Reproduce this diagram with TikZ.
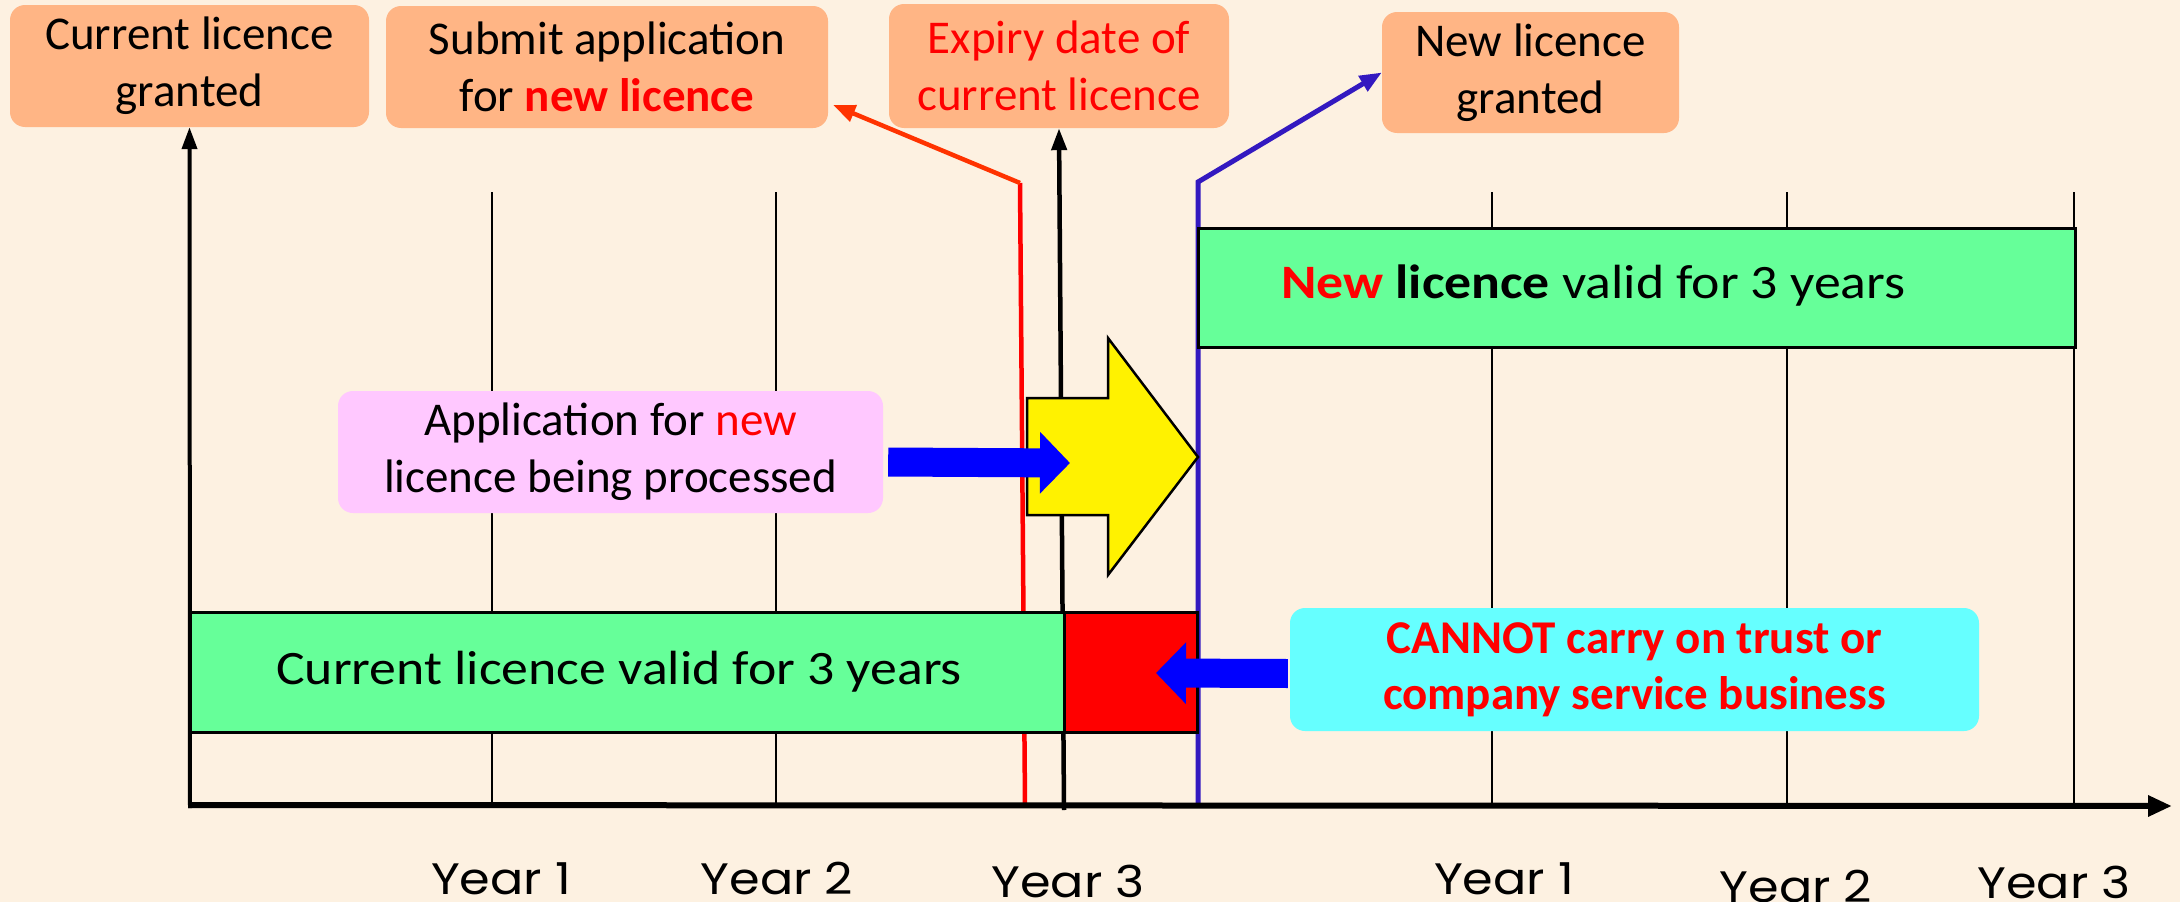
\documentclass[tikz,border=0pt]{standalone}
\usepackage{fontspec}
\setmainfont{Carlito}
\newfontfamily\yearfont[FakeStretch=1.12]{Poppins}
\newfontfamily\widefont[FakeStretch=1.12]{Carlito}
\usetikzlibrary{arrows.meta}
\definecolor{bgc}{RGB}{253,241,225}
\definecolor{peach}{RGB}{255,181,133}
\definecolor{lgreen}{RGB}{102,255,153}
\definecolor{lpink}{RGB}{255,200,255}
\definecolor{lcyan}{RGB}{102,255,255}
\definecolor{oranred}{RGB}{255,51,0}
\definecolor{vblue}{RGB}{51,25,192}
\begin{document}
\begin{tikzpicture}[x=1pt,y=-1pt,
  lbl/.style={fill=peach, rounded corners=15pt, inner sep=0pt, align=center,
    font=\fontsize{47}{57}\selectfont},
  rbox/.style={draw=black, line width=3pt, inner sep=0pt},
  txt/.style={font=\widefont\fontsize{48}{56}\selectfont, inner sep=0pt},
  yr/.style={font=\yearfont\fontsize{44}{50}\selectfont, inner sep=0pt, anchor=base},
  tick/.style={line width=1.2pt, black},
  blk/.style={line width=4.5pt, -{Triangle[length=22pt,width=15pt]}},
  blockarrow/.style={line width=29pt, blue, -{Triangle[length=30pt,width=60pt]}}]
\useasboundingbox (0,0) rectangle (2180,902);
\fill[bgc] (0,0) rectangle (2180,902);

% coordinates
\coordinate (o) at (190,808);
\coordinate (xend) at (2172,806);
\coordinate (redbot) at (1025,805);
\coordinate (redtop) at (1020,183);
\coordinate (y3bot) at (1064,810);
\coordinate (bluebot) at (1198,805);
\coordinate (bluetop) at (1198,182);
\coordinate (t1) at (1070,463);
\coordinate (t2) at (1156,673);

% thin year ticks
\foreach \x in {492,776,1492,1787,2074}
  \draw[tick] (\x,192) -- (\x,805);

% top label boxes
\node[lbl, minimum width=359pt, minimum height=122pt] (b1) at (189.5,66) {Current licence\\granted};
\node[lbl, minimum width=442pt, minimum height=122pt] (b2) at (607,67) {Submit application\\for \textbf{\color{red}new licence}};
\node[lbl, minimum width=340pt, minimum height=124pt, text=red] (b3) at (1059,66) {Expiry date of\\current licence};
\node[lbl, minimum width=297pt, minimum height=121pt] (b4) at (1530.5,72.5) {New licence\\granted};

% vertical markers
\draw[line width=4.5pt, red] (redbot) -- (redtop);
\draw[line width=4.5pt, oranred, line join=miter, -{Triangle[length=22pt,width=17pt]}] (redtop) -- ([shift={(5,38)}]b2.east);
\draw[blk] (y3bot) -- (b3.south);
\draw[line width=5pt, vblue, -{Triangle[length=22pt,width=17pt]}] (bluebot) -- (bluetop) -- (b4.west);

% licence bars
\node[rbox, fill=lgreen, minimum width=874pt, minimum height=120pt] (g1) at (627,672) {};
\node[txt] at (619,672) {Current licence valid for 3 years};
\node[rbox, fill=red, minimum width=133pt, minimum height=120pt] (rb) at (1130.5,672) {};
\node[rbox, fill=lgreen, minimum width=877pt, minimum height=119pt] (g2) at (1636.5,287.5) {};
\node[txt, anchor=base west] at (1281,298) {\textbf{\color{red}New} \textbf{licence} valid for 3 years};

% yellow block arrow
\draw[fill=yellow, draw=black, line width=2.5pt, line join=miter]
  (1027,398) -- (1108,398) -- (1108,338) -- (1198,457) -- (1108,575) -- (1108,515) -- (1027,515) -- cycle;

% side notes
\node[lbl, fill=lpink, minimum width=545pt, minimum height=122pt] (pk) at (610.5,452) {Application for {\color{red}new}\\licence being processed};
\node[lbl, fill=lcyan, minimum width=689pt, minimum height=123pt, text=red, font=\bfseries\fontsize{47}{56}\selectfont] (cy) at (1634.5,669.5) {CANNOT carry on trust or\\company service business};

\draw[blockarrow] ([shift={(5,10)}]pk.east) -- (t1);
\draw[blockarrow] ([shift={(-2,4)}]cy.west) -- (t2);

% axes
\draw[line width=4pt, -{Triangle[length=22pt,width=15pt]}] (o) -- (b1.south);
\draw[line width=6pt, -{Triangle[length=24pt,width=20pt]}] (188,805) -- (xend);

% year labels
\node[yr] (yl1) at (501,894) {Year 1};
\node[yr] (yl2) at (777,894) {Year 2};
\node[yr] (yl3) at (1068,897) {Year 3};
\node[yr] (yr1) at (1504,894) {Year 1};
\node[yr] (yr2) at (1796,902) {Year 2};
\node[yr] (yr3) at (2054,898) {Year 3};
\end{tikzpicture}
\end{document}
